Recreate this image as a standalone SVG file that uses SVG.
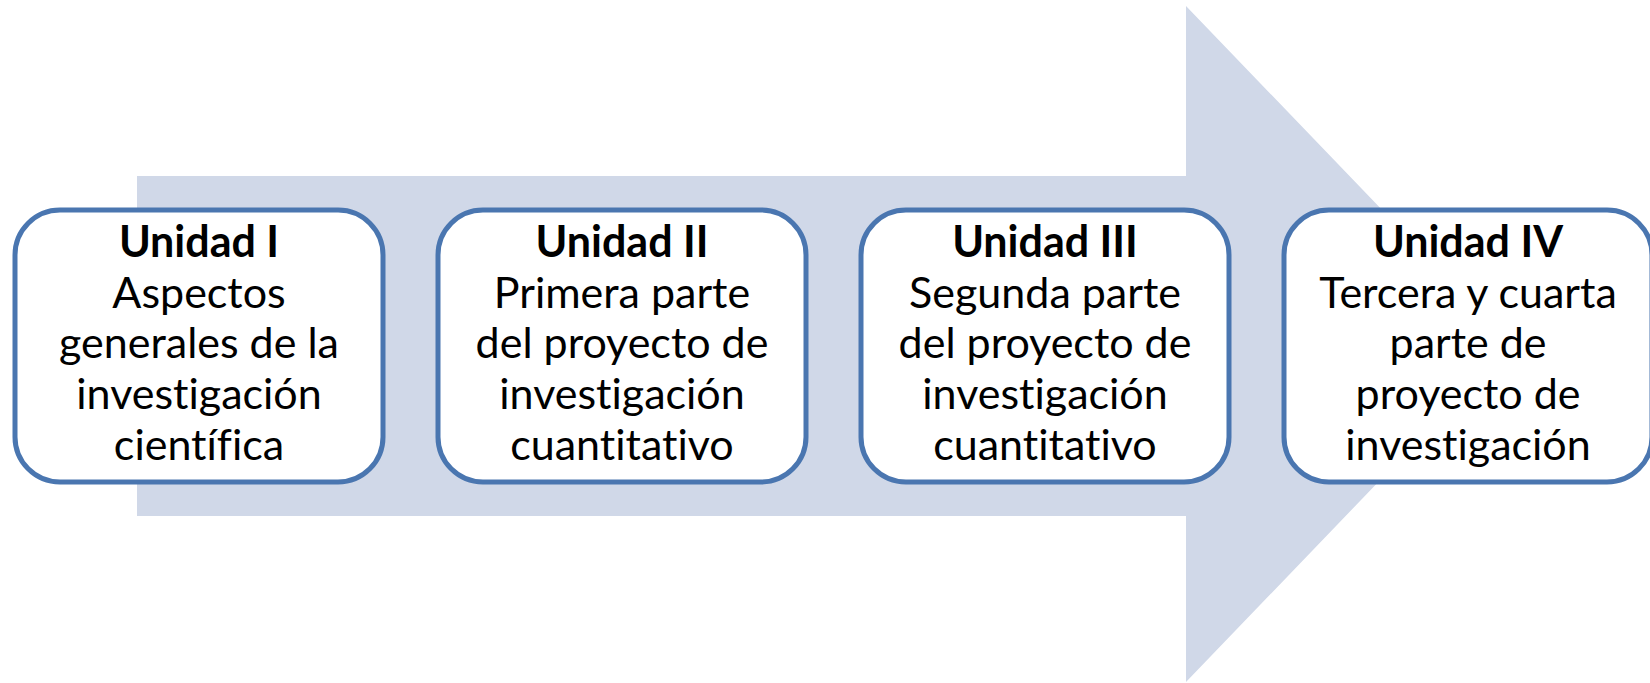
<svg xmlns="http://www.w3.org/2000/svg" width="1650" height="683" viewBox="0 0 1650 683">
<style>
.box{fill:#ffffff;stroke:#4A76B0;stroke-width:5}
.t{font-family:Lato,"Open Sans","Liberation Sans",sans-serif;font-size:43px;fill:#000;text-anchor:middle;font-variant-ligatures:none;font-feature-settings:"liga" 0,"dlig" 0}
.b{font-weight:bold}
</style>
<rect width="1650" height="683" fill="#ffffff"/>
<g id="arrow">
<polygon points="137,176 1186,176 1186,6 1511,344 1186,682 1186,516 137,516" fill="#D0D8E8"/>
</g>
<g id="connectors"></g>
<g id="unidad1">
<rect class="box" x="15" y="210" width="368" height="272" rx="45"/>
<text class="t" x="199" y="257"><tspan class="b">Unidad I</tspan><tspan x="199" dy="50.7">Aspectos</tspan><tspan x="199" dy="50.7">generales de la</tspan><tspan x="199" dy="50.7">investigación</tspan><tspan x="199" dy="50.7">científica</tspan></text>
</g>
<g id="unidad2">
<rect class="box" x="438" y="210" width="368" height="272" rx="45"/>
<text class="t" x="622" y="257"><tspan class="b">Unidad II</tspan><tspan x="622" dy="50.7">Primera parte</tspan><tspan x="622" dy="50.7">del proyecto de</tspan><tspan x="622" dy="50.7">investigación</tspan><tspan x="622" dy="50.7">cuantitativo</tspan></text>
</g>
<g id="unidad3">
<rect class="box" x="861" y="210" width="368" height="272" rx="45"/>
<text class="t" x="1045" y="257"><tspan class="b">Unidad III</tspan><tspan x="1045" dy="50.7">Segunda parte</tspan><tspan x="1045" dy="50.7">del proyecto de</tspan><tspan x="1045" dy="50.7">investigación</tspan><tspan x="1045" dy="50.7">cuantitativo</tspan></text>
</g>
<g id="unidad4">
<rect class="box" x="1284" y="210" width="368" height="272" rx="45"/>
<text class="t" x="1468" y="257"><tspan class="b">Unidad IV</tspan><tspan x="1468" dy="50.7">Tercera y cuarta</tspan><tspan x="1468" dy="50.7">parte de</tspan><tspan x="1468" dy="50.7">proyecto de</tspan><tspan x="1468" dy="50.7">investigación</tspan></text>
</g>
</svg>
